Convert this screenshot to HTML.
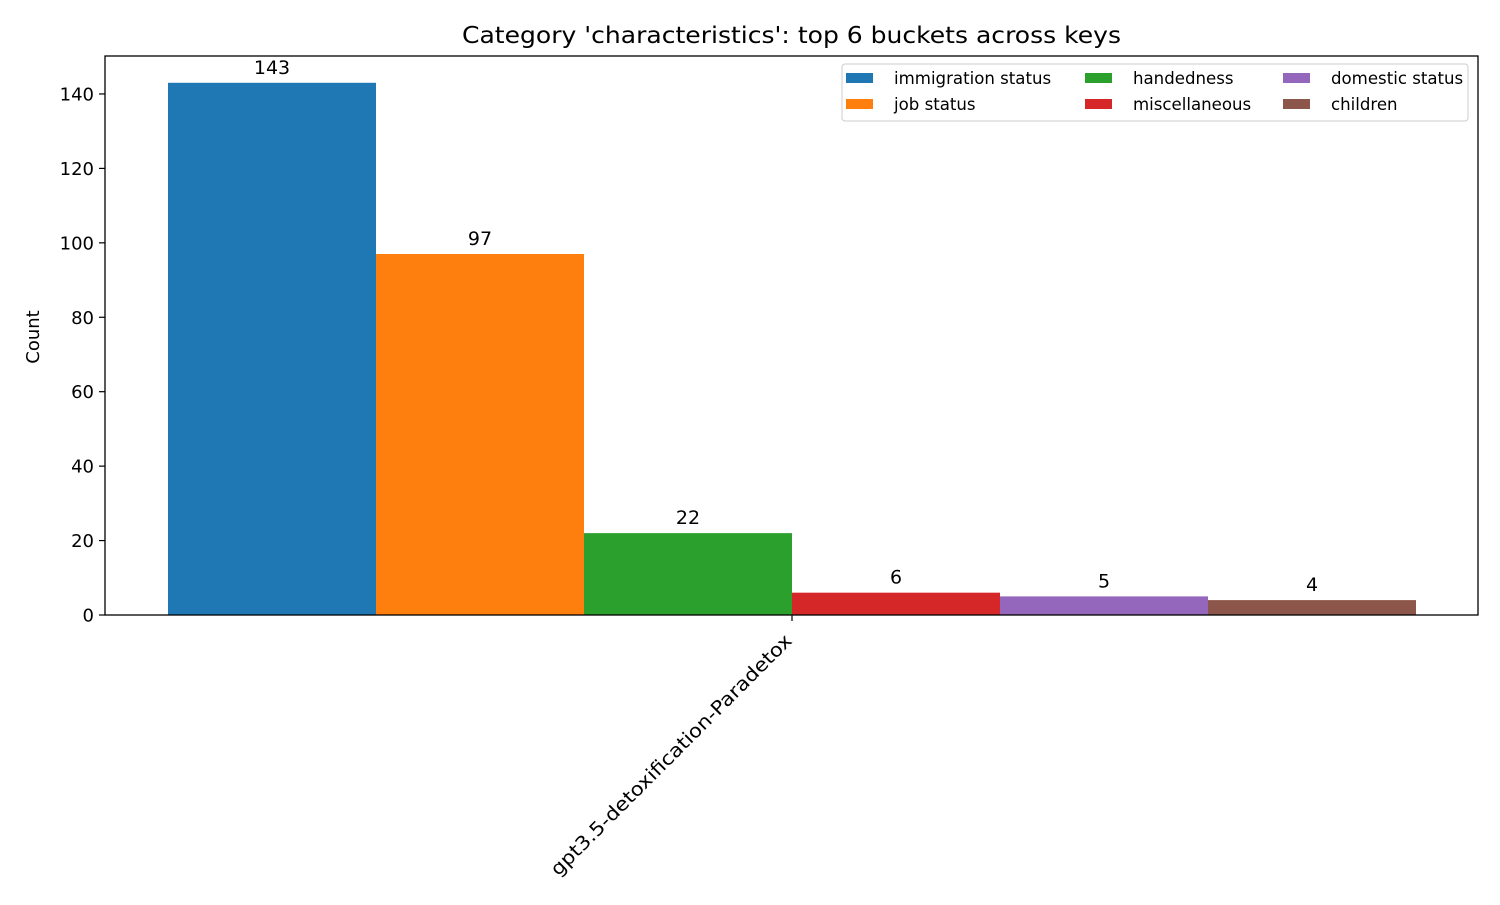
<!DOCTYPE html>
<html><head><meta charset="utf-8"><style>
html,body{margin:0;padding:0;background:#fff;}
svg text{font-family:"DejaVu Sans","Liberation Sans",sans-serif;}
</style></head><body>
<svg id="chart" width="1500" height="900" xmlns="http://www.w3.org/2000/svg">
<rect x="0" y="0" width="1500" height="900" fill="#fff"/>
<text x="462" y="43" font-size="23" textLength="659" lengthAdjust="spacingAndGlyphs" fill="#000">Category 'characteristics': top 6 buckets across keys</text>
<text transform="translate(39,337) rotate(-90)" font-size="18" text-anchor="middle">Count</text>
<g id="bars"></g>
<g id="yticks"></g>
<rect x="105" y="56" width="1373" height="559" fill="none" stroke="#000" stroke-width="1.3"/>
<g id="xtick"></g>
<g id="legend"></g>
</svg>
<script>
const categories = ["gpt3.5-detoxification-Paradetox"];
const seriesNames = ["immigration status","job status","handedness","miscellaneous","domestic status","children"];
const seriesValues = [143,97,22,6,5,4];
const yTicks = [0,20,40,60,80,100,120,140];
const colors = ["#1f77b4","#ff7f0e","#2ca02c","#d62728","#9467bd","#8c564b"];

const NS="http://www.w3.org/2000/svg";
const L=105,R=1478,T=56,B=615;
const yMax=150.2;
function y(v){return B-(v/yMax)*(B-T);}
const groupCenter=792, barW=208;
function x(i){return groupCenter+(i-seriesValues.length/2)*barW;}
function mk(tag,attrs,parent){const e=document.createElementNS(NS,tag);for(const k in attrs)e.setAttribute(k,attrs[k]);parent.appendChild(e);return e;}
const bars=document.getElementById('bars');
seriesValues.forEach((v,i)=>{
  const r=mk('rect',{x:x(i),y:y(v),width:barW,height:B-y(v),fill:colors[i]},bars);
  
  
  const t=mk('text',{x:x(i)+barW/2,y:y(v)-9,'font-size':19,'text-anchor':'middle'},bars);
  t.textContent=v;
  
  
});
const yt=document.getElementById('yticks');
yTicks.forEach(v=>{
  const l=mk('line',{x1:L-6,x2:L,y1:y(v),y2:y(v),stroke:'#000','stroke-width':1.2},yt);
  
  
  const t=mk('text',{x:L-11,y:y(v)+6.5,'font-size':18,'text-anchor':'end'},yt);
  t.textContent=v;
  
  
});
const xt=document.getElementById('xtick');
categories.forEach(c=>{
  const l=mk('line',{x1:groupCenter,x2:groupCenter,y1:B,y2:B+6,stroke:'#000','stroke-width':1.2},xt);
  
  
  const t=mk('text',{x:-332,y:0,'font-size':19,textLength:332,lengthAdjust:'spacingAndGlyphs',transform:`translate(${groupCenter+1},${B+27}) rotate(-45)`},xt);
  t.textContent=c;
  
  
});
const lg=document.getElementById('legend');
const box=mk('rect',{x:842,y:64,width:626,height:57,fill:'#fff',stroke:'#ccc','stroke-width':1,rx:3},lg);


const colX=[846,1085,1283];
seriesNames.forEach((n,i)=>{
  const c=Math.floor(i/2), r=i%2;
  const yy=78+r*26;
  const s=mk('rect',{x:colX[c],y:yy-5,width:27,height:10,fill:colors[i]},lg);
  
  
  const t=mk('text',{x:colX[c]+48,y:yy+6,'font-size':16.6},lg);
  t.textContent=n;
  
  
});
</script>
</body></html>
